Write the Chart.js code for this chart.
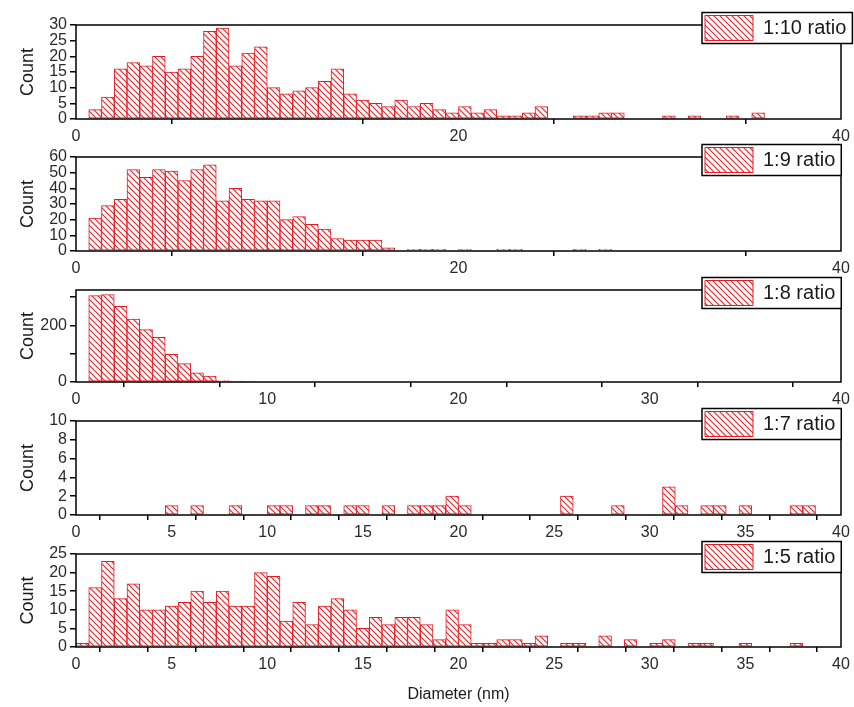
<!DOCTYPE html>
<html>
<head>
<meta charset="utf-8">
<script src="https://cdn.jsdelivr.net/npm/chart.js@4.4.1/dist/chart.umd.min.js"></script>
<style>
  html, body { margin: 0; padding: 0; background: #ffffff; width: 854px; height: 707px; overflow: hidden; }
  canvas { position: absolute; left: 0; }
</style>
</head>
<body>
<script>
// ---------------- DATA ----------------
// Histogram bins: width 2/3 nm, starting at 0 nm (60 bins to 40 nm)
const BIN_WIDTH = 2 / 3;

const seriesNames = ['1:10 ratio', '1:9 ratio', '1:8 ratio', '1:7 ratio', '1:5 ratio'];

const counts_1_10 = [0, 3, 7, 16, 18, 17, 20, 15, 16, 20, 28, 29, 17, 21, 23, 10, 8, 9, 10, 12,
                     16, 8, 6, 5, 4, 6, 4, 5, 3, 2, 4, 2, 3, 1, 1, 2, 4, 0, 0, 1,
                     1, 2, 2, 0, 0, 0, 1, 0, 1, 0, 0, 1, 0, 2, 0, 0, 0, 0, 0, 0];

const counts_1_9 = [0, 21, 29, 33, 52, 47, 52, 51, 45, 52, 55, 32, 40, 33, 32, 32, 20, 22, 17, 14,
                    8, 7, 7, 7, 2, 0, 1, 1, 1, 0, 1, 0, 0, 1, 1, 0, 0, 0, 0, 1,
                    0, 1, 0, 0, 0, 0, 0, 0, 0, 0, 0, 0, 0, 0, 0, 0, 0, 0, 0, 0];

const counts_1_8 = [0, 305, 309, 267, 222, 185, 158, 98, 65, 32, 21, 5, 3, 2, 0, 0, 0, 0, 0, 0,
                    0, 0, 0, 0, 0, 0, 0, 0, 0, 0, 0, 0, 0, 0, 0, 0, 0, 0, 0, 0,
                    0, 0, 0, 0, 0, 0, 0, 0, 0, 0, 0, 0, 0, 0, 0, 0, 0, 0, 0, 0];

const counts_1_7 = [0, 0, 0, 0, 0, 0, 0, 1, 0, 1, 0, 0, 1, 0, 0, 1, 1, 0, 1, 1,
                    0, 1, 1, 0, 1, 0, 1, 1, 1, 2, 1, 0, 0, 0, 0, 0, 0, 0, 2, 0,
                    0, 0, 1, 0, 0, 0, 3, 1, 0, 1, 1, 0, 1, 0, 0, 0, 1, 1, 0, 0];

const counts_1_5 = [1, 16, 23, 13, 17, 10, 10, 11, 12, 15, 12, 15, 11, 11, 20, 19, 7, 12, 6, 11,
                    13, 10, 5, 8, 6, 8, 8, 6, 2, 10, 6, 1, 1, 2, 2, 1, 3, 0, 1, 1,
                    0, 3, 0, 2, 0, 1, 2, 0, 1, 1, 0, 0, 1, 0, 0, 0, 1, 0, 0, 0];

const allCounts = [counts_1_10, counts_1_9, counts_1_8, counts_1_7, counts_1_5];

// axis ranges and tick labels
const yMaxes = [30, 60, 325, 10, 25];
const yTickSteps = [5, 10, 100, 2, 5];
const yTickLabels = [
  [0, 5, 10, 15, 20, 25, 30],
  [0, 10, 20, 30, 40, 50, 60],
  [0, 200],
  [0, 2, 4, 6, 8, 10],
  [0, 5, 10, 15, 20, 25]
];
const xTickSteps = [10, 10, 5, 2.5, 2.5];
const xTickLabels = [
  [0, 20, 40],
  [0, 20, 40],
  [0, 10, 20, 30, 40],
  [0, 5, 10, 15, 20, 25, 30, 35, 40],
  [0, 5, 10, 15, 20, 25, 30, 35, 40]
];
const yTitle = 'Count';
const xTitle = 'Diameter (nm)';

// ---------------- LAYOUT ----------------
const W = 854;
const plotTops = [25, 157, 290, 421, 554];
const plotBottoms = [119, 251, 382, 515, 647];
const PLOT_LEFT = 76, PLOT_RIGHT = 841;
const FONT = "'Liberation Sans', Arial, Helvetica, sans-serif";
const RED = 'rgb(224,28,36)';

Chart.defaults.font.family = FONT;

function makeHatch(ctx) {
  const c = document.createElement('canvas');
  c.width = 6; c.height = 6;
  const g = c.getContext('2d');
  g.fillStyle = '#fff6f6';
  g.fillRect(0, 0, 6, 6);
  g.strokeStyle = 'rgb(222,40,48)';
  g.lineWidth = 1.1;
  g.beginPath();
  g.moveTo(-1, -1); g.lineTo(7, 7);
  g.moveTo(-1, 5); g.lineTo(1, 7);
  g.moveTo(5, -1); g.lineTo(7, 1);
  g.stroke();
  return ctx.createPattern(c, 'repeat');
}

// frame around the plot area
const framePlugin = {
  id: 'frame',
  afterDatasetsDraw(chart) {
    const a = chart.chartArea, ctx = chart.ctx;
    ctx.save();
    ctx.strokeStyle = '#000';
    ctx.lineWidth = 1.5;
    ctx.strokeRect(a.left, a.top, a.right - a.left, a.bottom - a.top);
    ctx.restore();
  }
};

// place the built-in legend over the top-right corner of the frame, boxed
const legendPlacePlugin = {
  id: 'legendPlace',
  beforeLayout(chart) {
    const lg = chart.legend;
    if (!lg || lg._placed) return;
    lg._placed = true;
    lg._layers = () => [{
      z: 10,
      draw: () => {
        const ctx = chart.ctx;
        const a = chart.chartArea;
        const o = lg.options.labels;
        ctx.save();
        ctx.font = o.font.size + 'px ' + FONT;
        const tw = ctx.measureText(chart.data.datasets[0].label).width;
        ctx.restore();
        const L = 702, T = a.top - 12.5, H = 31;
        const w = o.padding + o.boxWidth + o.font.size / 2 + tw + 6;
        ctx.save();
        ctx.fillStyle = '#fff';
        ctx.fillRect(L, T, w, H);
        ctx.strokeStyle = '#000';
        ctx.lineWidth = 1.5;
        ctx.strokeRect(L, T, w, H);
        ctx.restore();
        lg.left = L; lg.top = T; lg.right = W; lg.bottom = T + H;
        lg.width = W - L; lg.height = H;
        lg.draw(a);
      }
    }];
  }
};

for (let i = 0; i < 5; i++) {
  const last = i === 4;
  const xAxisH = last ? 61 : 36;
  // keep each canvas on an even pixel row so the fine hatch renders cleanly
  const topPad = 20 + (plotTops[i] % 2);
  const plotH = plotBottoms[i] - plotTops[i];
  const h = topPad + plotH + xAxisH;
  const cv = document.createElement('canvas');
  cv.width = W; cv.height = h;
  cv.style.width = W + 'px'; cv.style.height = h + 'px';
  cv.style.top = (plotTops[i] - topPad) + 'px';
  document.body.appendChild(cv);
  const ctx = cv.getContext('2d');
  const hatch = makeHatch(ctx);
  const counts = allCounts[i];
  const yl = yTickLabels[i], xl = xTickLabels[i];

  new Chart(ctx, {
    type: 'bar',
    data: {
      datasets: [{
        label: seriesNames[i],
        data: counts.map((c, k) => ({ x: (k + 0.5) * BIN_WIDTH, y: c })),
        backgroundColor: hatch,
        borderColor: RED,
        borderWidth: 1,
        borderSkipped: false,
        barPercentage: 1,
        categoryPercentage: 1
      }]
    },
    options: {
      responsive: false,
      animation: false,
      devicePixelRatio: 1,
      layout: { padding: { top: topPad, right: W - PLOT_RIGHT, left: 0, bottom: 0 } },
      plugins: {
        tooltip: { enabled: false },
        legend: {
          display: true,
          position: 'chartArea',
          align: 'start',
          labels: {
            boxWidth: 48,
            boxHeight: 25,
            padding: 3,
            color: '#1a1a1a',
            font: { size: 20, family: FONT }
          }
        }
      },
      scales: {
        x: {
          type: 'linear',
          min: 0, max: 40,
          offset: false,
          border: { display: false },
          grid: { drawOnChartArea: false, drawTicks: true, tickLength: 5, color: '#000', lineWidth: 1.5 },
          ticks: {
            stepSize: xTickSteps[i],
            autoSkip: false,
            includeBounds: false,
            maxRotation: 0,
            padding: 3,
            color: '#2a2a2a',
            font: { size: 16, family: FONT },
            callback: (v) => xl.includes(v) ? String(v) : ''
          },
          title: {
            display: last,
            text: xTitle,
            color: '#1a1a1a',
            font: { size: 16, family: FONT },
            padding: { top: 0, bottom: 4 }
          },
          afterFit: (s) => { s.height = xAxisH; }
        },
        y: {
          min: 0, max: yMaxes[i],
          border: { display: false },
          grid: { drawOnChartArea: false, drawTicks: true, tickLength: 6, color: '#000', lineWidth: 1.5 },
          ticks: {
            stepSize: yTickSteps[i],
            autoSkip: false,
            includeBounds: false,
            padding: 3,
            color: '#2a2a2a',
            font: { size: 16, family: FONT },
            callback: (v) => yl.includes(v) ? String(v) : ''
          },
          title: {
            display: true,
            text: yTitle,
            color: '#1a1a1a',
            font: { size: 18, family: FONT },
            padding: { top: 17, bottom: 0 }
          },
          afterFit: (s) => { s.width = PLOT_LEFT; }
        }
      }
    },
    plugins: [framePlugin, legendPlacePlugin]
  });
}
</script>
</body>
</html>
